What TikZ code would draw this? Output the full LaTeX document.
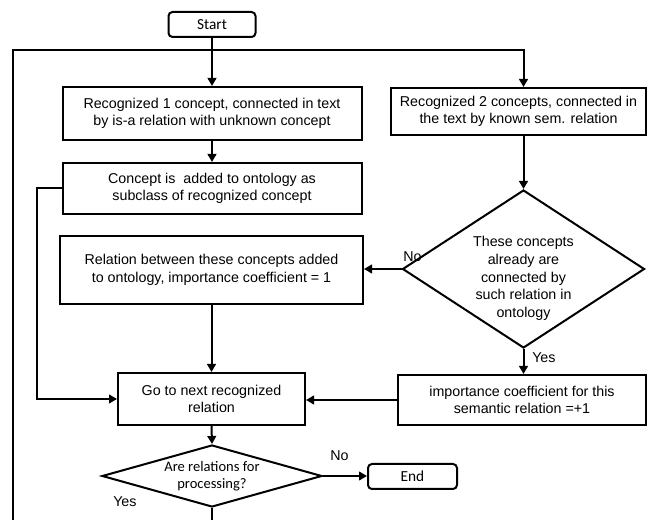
\documentclass[tikz,border=0pt]{standalone}
\usepackage{fontspec}
\setmainfont{Liberation Sans}
\newfontfamily\calfont{Carlito}
\usetikzlibrary{arrows.meta,shapes.geometric}
% one drawing unit
\newdimen\px \px=0.75pt
\begin{document}
\begin{tikzpicture}[x=0.75pt,y=-0.75pt,
  every node/.style={inner sep=0pt},
  txt/.style={font=\fontsize{10.7}{13.2}\selectfont, align=center},
  box/.style={draw, line width=1.5pt, txt},
  term/.style={draw, line width=1.5pt, rounded corners=3pt, font=\calfont\fontsize{11.5}{13}\selectfont},
  decision/.style={draw, line width=1.5pt, diamond, align=center},
  lbl/.style={font=\fontsize{10.7}{12}\selectfont},
  arr/.style={line width=1.5pt, -{Triangle[length=6pt,width=6.5pt]}},
  ln/.style={line width=1.5pt}]
\useasboundingbox (0,0) rectangle (647,520);
\clip (0,0) rectangle (647,520);

% terminals
\node[term, minimum width=87\px, minimum height=25\px] (start) at (212,24.5) {Start};
\node[term, minimum width=89\px, minimum height=25\px] (end) at (412.5,476.5) {End};

% process boxes
\node[box, minimum width=299\px, minimum height=53\px] (box1) at (212,113.5)
  {Recognized 1 concept, connected in text\\by is-a relation with unknown concept};
\node[box, minimum width=299\px, minimum height=51\px] (box3) at (212,188.5)
  {Concept is\ \ added to ontology as\\subclass of recognized concept};
\node[box, minimum width=303\px, minimum height=68\px] (box4) at (211.5,270)
  {Relation between these concepts added\\to ontology, importance coefficient = 1};
\node[box, minimum width=255\px, minimum height=47\px] (box2) at (518.5,111.5)
  {Recognized 2 concepts, connected in\\the text by known sem. relation};
\node[box, minimum width=248\px, minimum height=50\px] (box5) at (522,400)
  {importance coefficient for this\\semantic relation =+1};
\node[box, minimum width=187\px, minimum height=52\px] (box6) at (211.5,399)
  {Go to next recognized\\relation};

% decisions (text set as a centred label so it does not size the shape)
\node[decision, minimum width=242\px, minimum height=158\px,
      label={[txt, yshift=-7pt]center:These concepts\\already are\\connected by\\such relation in\\ontology}]
  (dec1) at (523.5,269) {};
\node[decision, minimum width=220\px, minimum height=62\px,
      label={[align=center, font=\calfont\fontsize{10.9}{13}\selectfont]center:Are relations for\\processing?}]
  (dec2) at (212,476) {};

% connectors
\draw[arr] (start.south) -- (start.south |- box1.north);
\draw[arr] (box1.south) -- (box1.south |- box3.north);
\draw[arr] (box2.south -| dec1.north) -- (dec1.north);
\draw[arr] (dec1.west) -- (dec1.west -| box4.east);
\draw[arr] (dec1.south) -- (dec1.south |- box5.north);
\draw[arr] (box4.south) -- (box4.south |- box6.north);
\draw[arr] (box5.west) -- (box5.west -| box6.east);
\draw[arr] (box3.west) -- ++(-25,0) |- (box6.west);
\draw[arr] (box6.south) -- (dec2.north);
\draw[arr] (dec2.east) -- (dec2.east -| end.west);

% return loop
\coordinate (lb) at (13,535);
\coordinate (tl) at (13,50);
\draw[arr] (dec2.south) |- (lb) -- (tl) -| (box2.north -| dec1.north);

% branch labels
\node[lbl, anchor=west] at (403,257) {No};
\node[lbl, anchor=west] at (532,358) {Yes};
\node[lbl, anchor=west] at (330,456) {No};
\node[lbl, anchor=west] at (113,502) {Yes};
\end{tikzpicture}
\end{document}
